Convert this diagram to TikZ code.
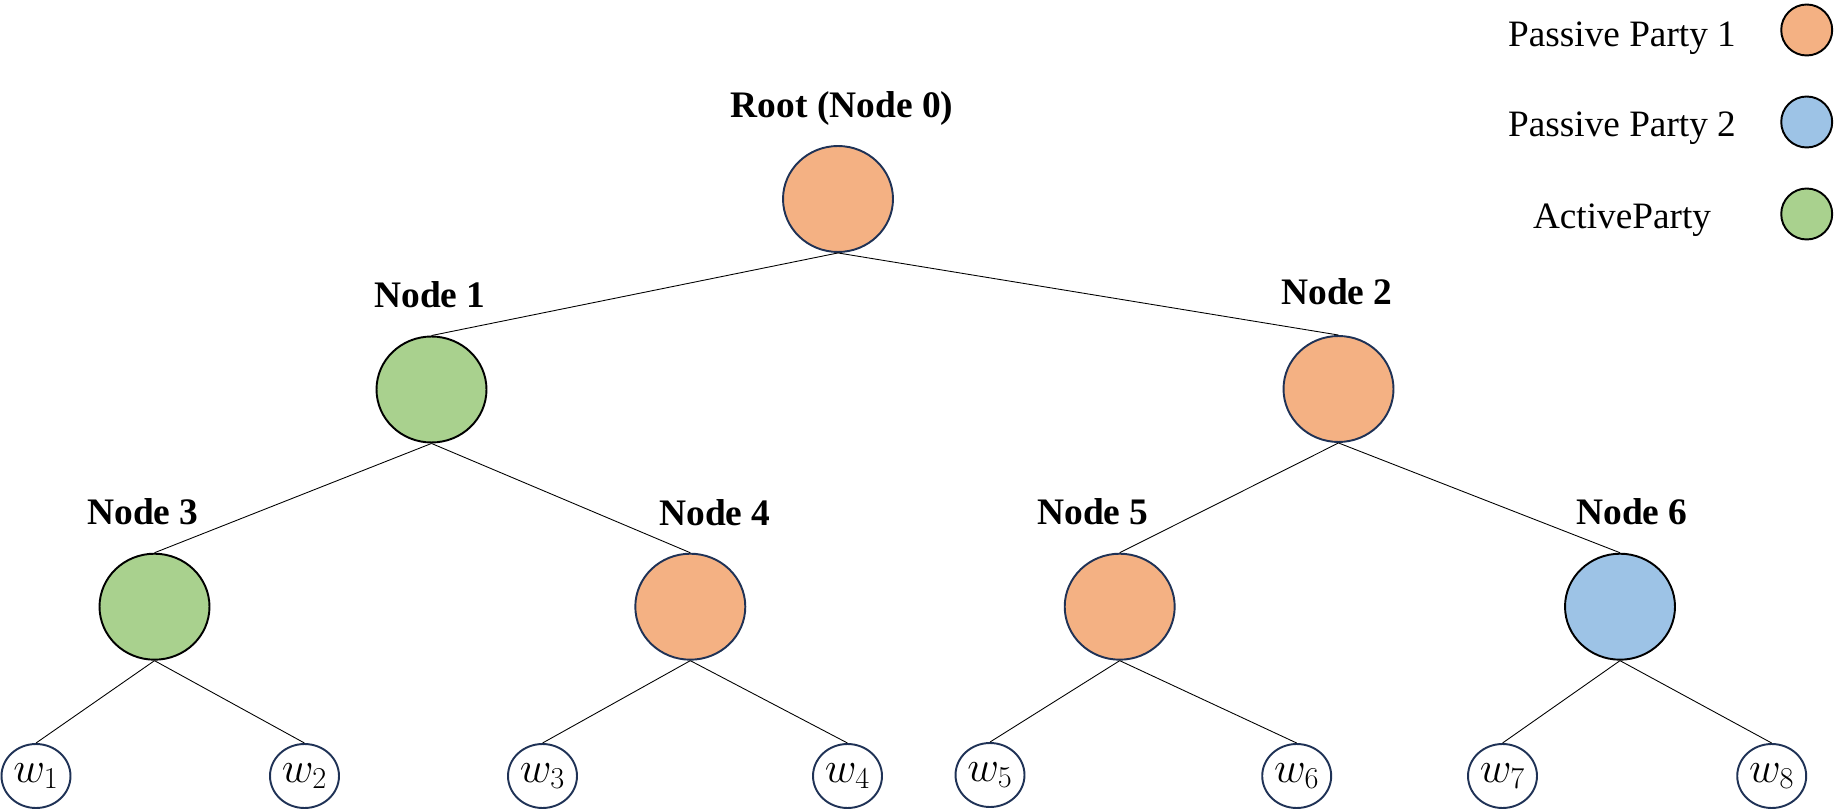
\documentclass[tikz,border=0pt]{standalone}
\usepackage{fontspec}
\setmainfont{Liberation Serif}
\usepackage{xcolor}
\usetikzlibrary{shapes.geometric}

\definecolor{partyone}{HTML}{F4B183}
\definecolor{partytwo}{HTML}{9DC3E6}
\definecolor{activeparty}{HTML}{A9D18E}
\definecolor{navyline}{HTML}{1F3256}

\begin{document}
\begin{tikzpicture}[x=0.02cm, y=-0.02cm,
			treenode/.style={ellipse, draw, line width=1.1pt, minimum width=2.2cm, minimum height=2.12cm, inner sep=0pt},
			leafnode/.style={ellipse, draw=navyline, line width=1.1pt, minimum width=1.38cm, minimum height=1.28cm, inner sep=0pt, font=\fontsize{27}{30}\selectfont},
			keydot/.style={circle, draw, line width=1.1pt, minimum size=1.02cm, inner sep=0pt},
			nodelabel/.style={anchor=base, font=\fontsize{21.3}{25}\selectfont\bfseries},
			keylabel/.style={anchor=base, font=\fontsize{21.2}{25}\selectfont},
			edge/.style={line width=0.5pt, black}]
			\useasboundingbox (0,0) rectangle (1835,810);
			
			% tree nodes
			\node[treenode, fill=partyone, draw=navyline] (n0) at (838,199) {};
			\node[treenode, fill=activeparty, draw=black] (n1) at (431.5,389.5) {};
			\node[treenode, fill=partyone, draw=navyline] (n2) at (1338.5,389) {};
			\node[treenode, fill=activeparty, draw=black] (n3) at (154.5,606.7) {};
			\node[treenode, fill=partyone, draw=navyline] (n4) at (690.3,606.7) {};
			\node[treenode, fill=partyone, draw=navyline] (n5) at (1119.7,606.7) {};
			\node[treenode, fill=partytwo, draw=black] (n6) at (1620,606.7) {};
			
			% labels
			\node[nodelabel] (l0) at (842,118) {Root (Node 0)};
			\node[nodelabel] (l1) at (430,308) {Node 1};
			\node[nodelabel] (l2) at (1337,305) {Node 2};
			\node[nodelabel] (l3) at (143,524) {Node 3};
			\node[nodelabel] (l4) at (715,525) {Node 4};
			\node[nodelabel] (l5) at (1093,524) {Node 5};
			\node[nodelabel] (l6) at (1632,524) {Node 6};
			
			% leaves
			\node[leafnode] (w1) at (36,776) {$w_{1}$};
			\node[leafnode] (w2) at (304.5,776) {$w_{2}$};
			\node[leafnode] (w3) at (542.5,776) {$w_{3}$};
			\node[leafnode] (w4) at (847.5,776) {$w_{4}$};
			\node[leafnode] (w5) at (990,775) {$w_{5}$};
			\node[leafnode] (w6) at (1296.7,776) {$w_{6}$};
			\node[leafnode] (w7) at (1502.5,776) {$w_{7}$};
			\node[leafnode] (w8) at (1771.7,776) {$w_{8}$};
			
			% edges
			\draw[edge] (n0.south) -- (n1.north);
			\draw[edge] (n0.south) -- (n2.north);
			\draw[edge] (n1.south) -- (n3.north);
			\draw[edge] (n1.south) -- (n4.north);
			\draw[edge] (n2.south) -- (n5.north);
			\draw[edge] (n2.south) -- (n6.north);
			\draw[edge] (n3.south) -- (w1.north);
			\draw[edge] (n3.south) -- (w2.north);
			\draw[edge] (n4.south) -- (w3.north);
			\draw[edge] (n4.south) -- (w4.north);
			\draw[edge] (n5.south) -- (w5.north);
			\draw[edge] (n5.south) -- (w6.north);
			\draw[edge] (n6.south) -- (w7.north);
			\draw[edge] (n6.south) -- (w8.north);
			
			% legend
			\node[keylabel] (k1) at (1622,47) {Passive Party 1};
			\node[keylabel] (k2) at (1622,136.7) {Passive Party 2};
			\node[keylabel] (k3) at (1622,228.3) {ActiveParty};
			\node[keydot, fill=partyone] (d1) at (1806.7,30) {};
			\node[keydot, fill=partytwo] (d2) at (1806.7,122) {};
			\node[keydot, fill=activeparty] (d3) at (1806.7,214) {};
\end{tikzpicture}
\end{document}
